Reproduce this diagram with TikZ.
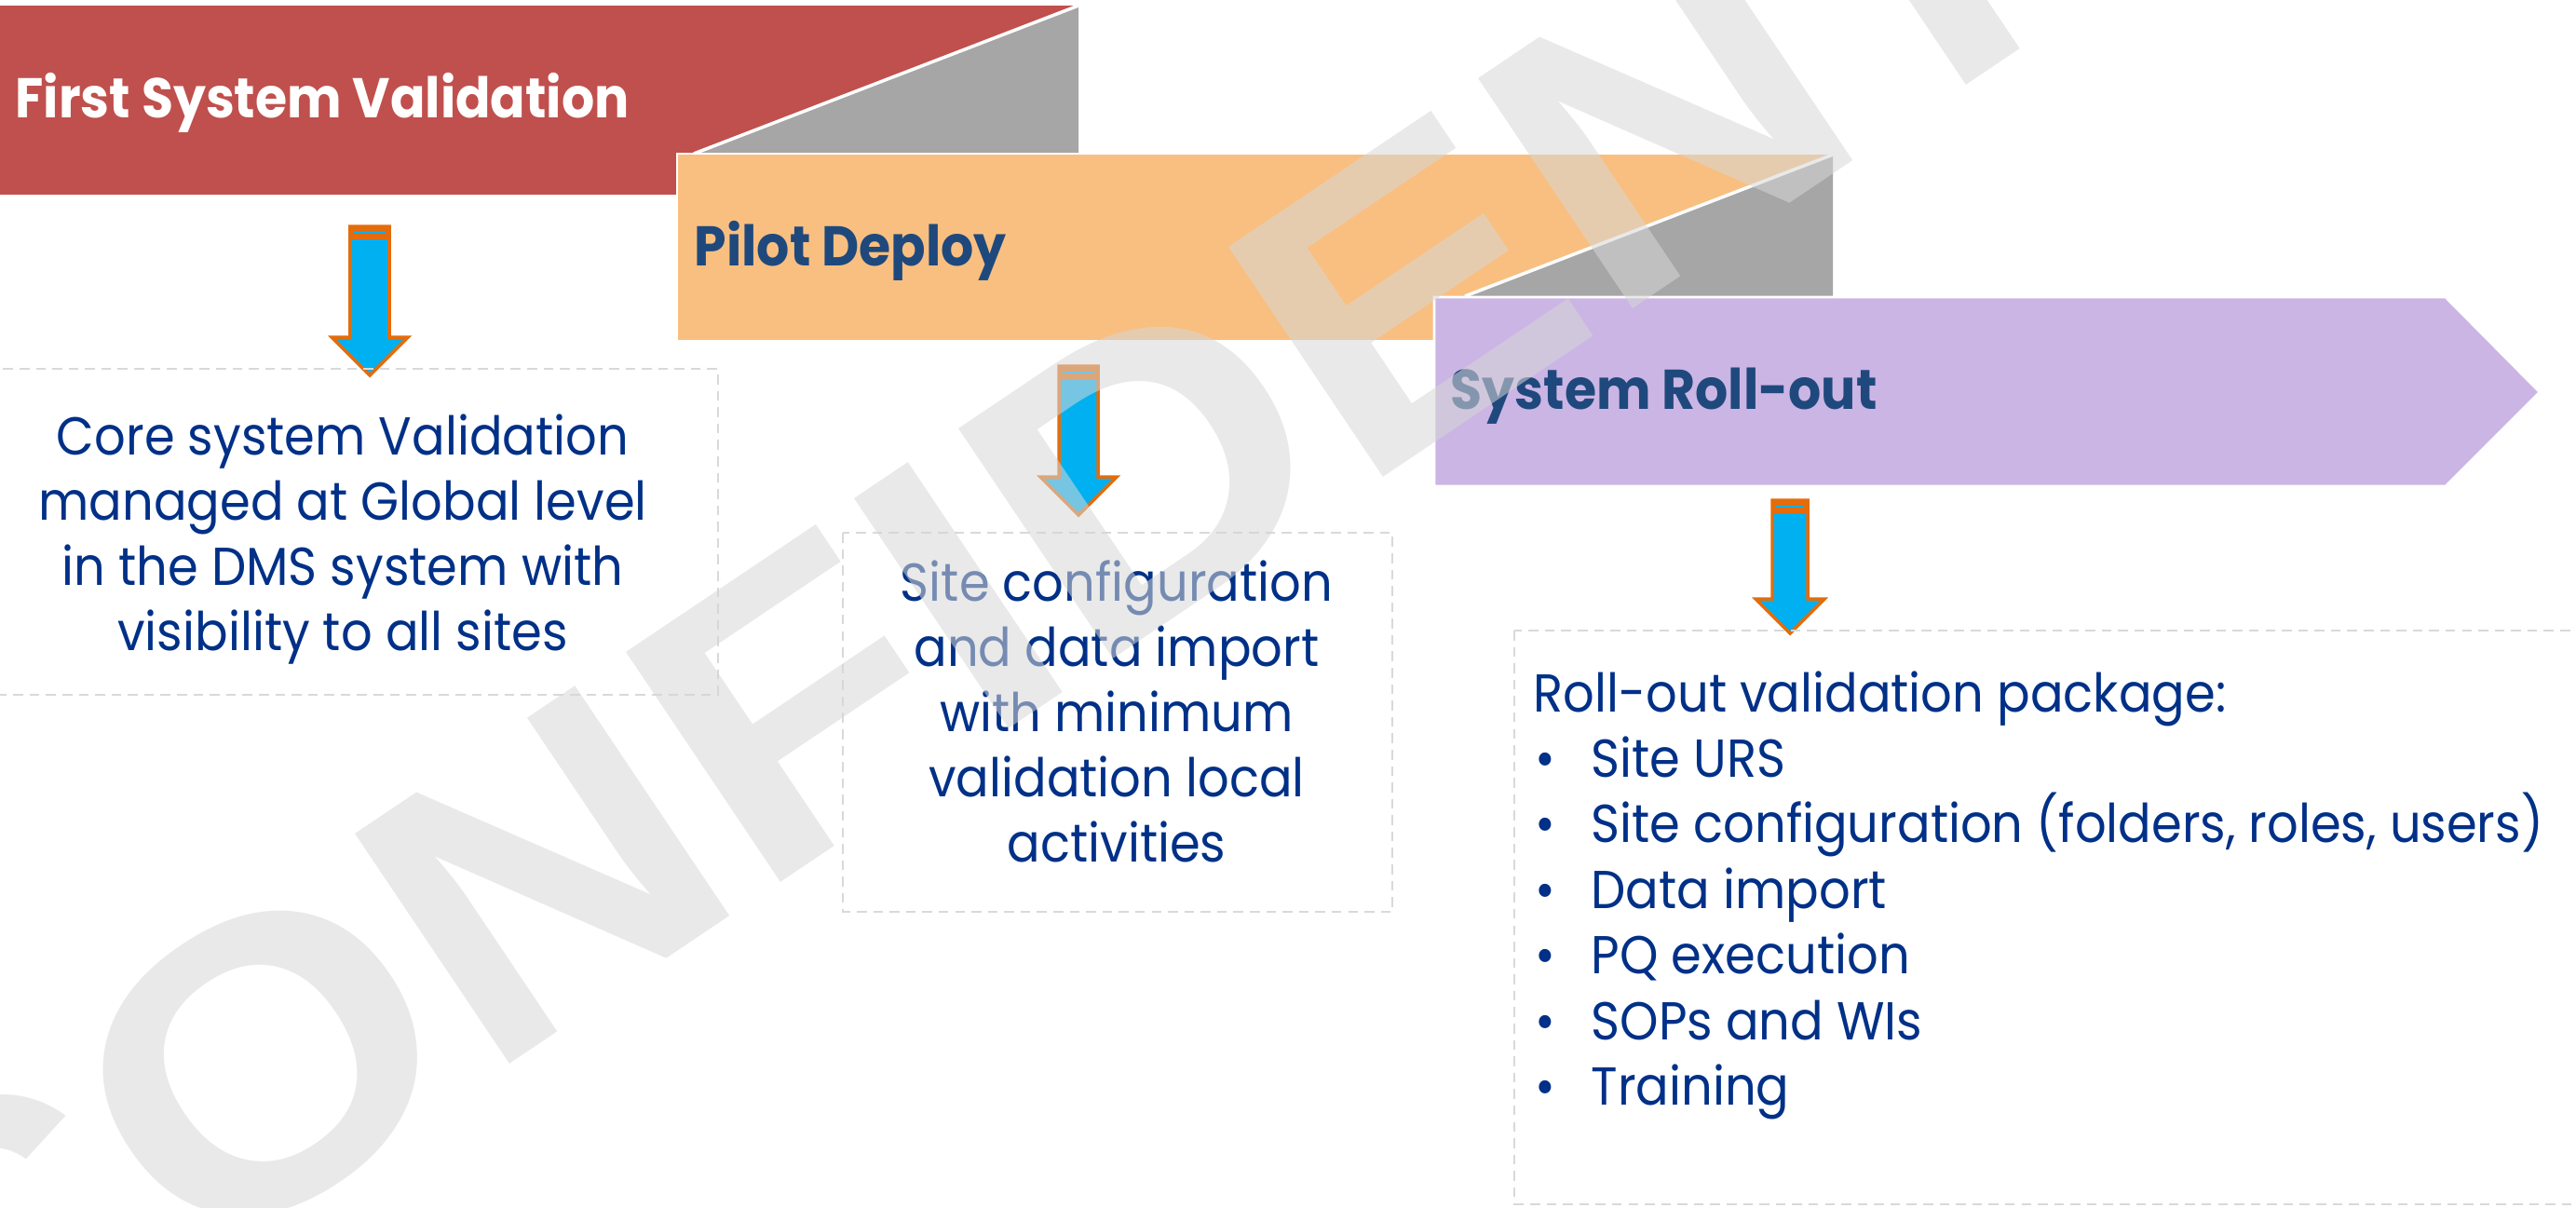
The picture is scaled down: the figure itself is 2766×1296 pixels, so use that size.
\documentclass[tikz,border=0pt]{standalone}
\usepackage{fontspec}
\setmainfont{Poppins}[FakeStretch=0.92]
\newfontfamily\wmfont{Liberation Sans}[FakeStretch=1.12]
\usetikzlibrary{positioning}

\definecolor{phasered}{RGB}{192,80,77}
\definecolor{phaseorange}{RGB}{249,191,128}
\definecolor{phasepurple}{RGB}{203,181,228}
\definecolor{foldgray}{RGB}{166,166,166}
\definecolor{titleblue}{RGB}{31,73,125}
\definecolor{bodyblue}{RGB}{0,48,135}
\definecolor{boxgray}{RGB}{217,217,217}
\definecolor{arrowcyan}{RGB}{0,176,240}
\definecolor{arroworange}{RGB}{228,108,10}
\definecolor{wmgray}{RGB}{215,215,215}

% block arrow: x, top, tip, shaft half width, head half width
\newcommand{\phasearrow}[5]{%
  \filldraw[fill=arrowcyan, draw=arroworange, line width=1pt]
    (#1-#4,#2) -- (#1+#4,#2) -- (#1+#4,#3-#5) -- (#1+#5,#3-#5)
    -- (#1,#3) -- (#1-#5,#3-#5) -- (#1-#4,#3-#5) -- cycle;
  \fill[arroworange] (#1-#4,#2) rectangle (#1+#4,#2+14);
  \draw[arrowcyan, line width=0.6pt] (#1-#4+4,#2+7) -- (#1+#4-4,#2+7);
}

\begin{document}
\begin{tikzpicture}[
            x = 0.01cm, y = -0.01cm, % one unit = one pixel
            phase/.style = {inner sep=0, anchor=base west, text=titleblue,
                            font=\bfseries\fontsize{17.1}{20}\selectfont},
            body/.style = {inner sep=0, text=bodyblue,
                           font=\fontsize{16.3}{19.9}\selectfont},
            notebox/.style = {draw=boxgray, line width=0.8pt, dash pattern=on 3pt off 2pt},
            fold/.style = {fill=foldgray},
            watermark/.style = {inner sep=0, anchor=base west, text=wmgray, text opacity=0.55,
                           font=\wmfont\bfseries\fontsize{123}{123}\selectfont}
        ]

\useasboundingbox (0,0) rectangle (2766,1296);
\clip (0,0) rectangle (2766,1296);

% phase bars
\fill[phasered] (0,6) rectangle (1158,209);
\fill[fold] (1158,6) -- (1158,165) -- (745,165) -- cycle;
\draw[white, line width=1pt] (1158,6) -- (745,165);
\filldraw[fill=phaseorange, draw=white, line width=0.8pt] (727,165) rectangle (1968,366);
\fill[fold] (1968,166) -- (1968,318) -- (1573,318) -- cycle;
\draw[white, line width=1pt] (1968,166) -- (1573,318);
\filldraw[fill=phasepurple, draw=white, line width=0.8pt] (1540,319) -- (2626,319)
    -- (2727,421) -- (2626,522) -- (1540,522) -- cycle;

\node[phase, text=white] (first) at (16,126) {First System Validation};
\node[phase] (pilot) at (745,285) {Pilot Deploy};
\node[phase] (rollout) at (1557,439) {System Roll-out};

% arrows down to the notes
\phasearrow{397}{243}{403}{21}{41}
\phasearrow{1158}{393}{553}{21}{41}
\phasearrow{1922}{537}{680}{19}{37}

% notes
\draw[notebox] (-5,396) rectangle (771,746);
\draw[notebox] (905,572) rectangle (1495,979);
\draw[notebox] (1626,677) rectangle (2790,1293);

\node[body, anchor=base, align=center] (core) at (368,698)
    {Core system Validation\\managed at Global level\\in the DMS system with\\visibility to all sites};
\node[body, anchor=base, align=center] (site) at (1199,925)
    {Site configuration\\and data import\\with minimum\\validation local\\activities};

\node[body, anchor=base west] (pkg) at (1646,764) {Roll-out validation package:};
\foreach \entry [count=\k] in {Site URS, {Site configuration (folders, roles, users)},
        Data import, PQ execution, SOPs and WIs, Training}
    \node[body, anchor=base west] (pkg\k) at (1646,764+70.4*\k)
        {\makebox[17.6pt][l]{\hspace{0.5pt}•}\entry};

% watermark
\node[watermark, rotate=33.9] (conf) at (-83,1566) {CONFIDENTIAL};
\end{tikzpicture}
\end{document}
